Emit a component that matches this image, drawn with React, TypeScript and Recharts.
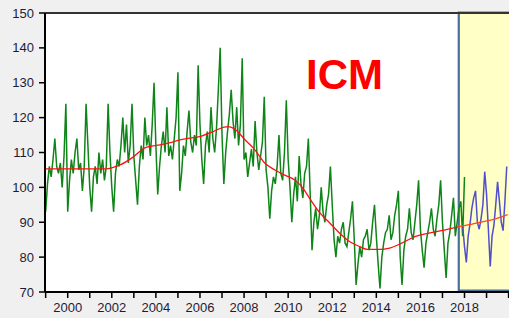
import { LineChart, Line, XAxis, YAxis, CartesianGrid, ReferenceArea, ReferenceLine } from 'recharts';

// monthly actuals, Jan 1999 onwards (one row per year)
const actualValues = [
  93, 101, 106, 103, 108, 114, 106, 104, 107, 100, 109, 124,
  93, 102, 108, 104, 110, 114, 105, 107, 99, 106, 124, 112,
  100, 93, 103, 106, 101, 110, 104, 108, 102, 106, 124, 110,
  100, 93, 104, 108, 106, 112, 120, 110, 118, 107, 112, 124,
  109, 102, 95, 106, 112, 108, 120, 112, 115, 109, 118, 130,
  112, 98, 106, 112, 116, 110, 123, 109, 112, 108, 114, 120,
  133, 99, 104, 112, 109, 116, 122, 113, 110, 115, 112, 135,
  118, 108, 101, 112, 116, 110, 123, 114, 110, 117, 128, 140,
  115, 101, 110, 116, 121, 128, 119, 114, 123, 112, 118, 137,
  108, 110, 103, 107, 111, 106, 119, 110, 105, 109, 113, 126,
  105, 100, 91, 99, 103, 101, 106, 115, 104, 102, 110, 125,
  108, 100, 90, 98, 103, 96, 109, 101, 97, 104, 106, 114,
  98, 82, 90, 94, 88, 92, 100, 93, 90, 95, 98, 106,
  95, 85, 80, 86, 84, 88, 90, 84, 83, 87, 91, 96,
  85, 72, 78, 83, 80, 85, 86, 88, 82, 84, 90, 95,
  86, 78, 71, 80, 84, 87, 88, 92, 85, 87, 92, 95,
  99, 80, 72, 82, 86, 88, 94, 87, 85, 90, 95, 102,
  88, 82, 77, 84, 87, 90, 94, 88, 86, 91, 95, 102,
  90, 82, 74, 84, 87, 92, 97, 86, 90, 94, 96, 86,
  103,
];

// forecast, Dec 2017 -> Dec 2019
const forecastStart = 2017 + 11 / 12;
const forecastValues = [
  89, 83, 78.5, 86, 89.5, 94, 97, 99, 90, 88, 91, 95, 104.5,
  98, 88, 77.3, 86, 89, 95, 101.6, 96, 90, 87.6, 96, 106,
];

// smoothed trend
const trendYears = [
  1999, 2000, 2001, 2001.75, 2002, 2002.4, 2002.95, 2003.55, 2004.2, 2004.65, 2005, 2005.55,
  2006.1, 2006.6, 2007.1, 2007.3, 2007.6, 2008.05, 2008.5, 2008.95, 2009.4, 2009.85, 2010.3,
  2010.7, 2011, 2011.45, 2011.9, 2012.35, 2012.8, 2013.25, 2013.6, 2014.2, 2014.55, 2015.15,
  2015.75, 2016.35, 2016.95, 2017.7,
];
const trendValues = [
  105.3, 105.3, 105.3, 105.3, 105.6, 106.5, 108.6, 111.5, 112.2, 112.8, 113.5, 114.1,
  114.8, 116, 117.3, 117.4, 116.6, 113.6, 110.7, 106.9, 105, 103.5, 102.1,
  99.5, 96.6, 92.6, 89.7, 86.8, 84.4, 83, 82.2, 82.2, 82.5, 84,
  85.9, 86.8, 87.6, 88.7,
];
const trendFcstYears = [2017.7, 2018.2, 2018.85, 2019.4, 2019.95];
const trendFcstValues = [88.7, 89.3, 90.2, 91, 92.2];

const yTicks = [70, 80, 90, 100, 110, 120, 130, 140, 150];
const xTicks = [1999, 2000, 2001, 2002, 2003, 2004, 2005, 2006, 2007, 2008, 2009, 2010, 2011, 2012, 2013, 2014, 2015, 2016, 2017, 2018, 2019, 2020];
const xLabels = ['2000', '2002', '2004', '2006', '2008', '2010', '2012', '2014', '2016', '2018'];

const actualData = actualValues.map((v, i) => ({ x: 1999 + i / 12, y: v }));
const forecastData = forecastValues.map((v, i) => ({ x: forecastStart + i / 12, y: v }));
const trendData = trendYears.map((x, i) => ({ x, y: trendValues[i] }));
const trendFcstData = trendFcstYears.map((x, i) => ({ x, y: trendFcstValues[i] }));

const tickStyle = { fontSize: 13, fill: '#1c1c38', fontFamily: '"Liberation Sans", Arial, sans-serif' };

export default function App() {
  return (
    <div style={{ position: 'absolute', left: 0, top: 0, width: 509, height: 318, overflow: 'hidden', background: '#f0f0f0' }}>
      <LineChart width={513} height={318} margin={{ top: 13, right: 0, bottom: 0, left: 0 }}>
        <CartesianGrid fill="#ffffff" stroke="none" />
        <ReferenceArea
          x1={2017.74}
          x2={2021}
          y1={70.4}
          y2={150.1}
          fill="#ffffc6"
          fillOpacity={1}
          stroke="#4a6f98"
          strokeWidth={2.2}
          ifOverflow="visible"
        />
        <ReferenceLine y={150} stroke="#333" strokeWidth={2} />
        <XAxis
          type="number"
          dataKey="x"
          domain={[1998.97, 2020.2]}
          allowDataOverflow
          ticks={xTicks}
          tickFormatter={(v: number) => (xLabels.includes(String(v)) ? String(v) : '')}
          interval={0}
          height={26}
          tickSize={6}
          tickMargin={5}
          axisLine={{ stroke: '#000', strokeWidth: 2 }}
          tickLine={{ stroke: '#000', strokeWidth: 1.5 }}
          tick={tickStyle}
        />
        <YAxis
          type="number"
          domain={[70, 150]}
          ticks={yTicks}
          interval={0}
          width={45}
          tickSize={6}
          tickMargin={5}
          axisLine={{ stroke: '#000', strokeWidth: 2 }}
          tickLine={{ stroke: '#000', strokeWidth: 1.5 }}
          tick={tickStyle}
        />
        <Line data={actualData} dataKey="y" type="linear" stroke="#0f8418" strokeWidth={1.5} dot={false} activeDot={false} isAnimationActive={false} />
        <Line data={forecastData} dataKey="y" type="linear" stroke="#4f4fcf" strokeWidth={1.5} dot={false} activeDot={false} isAnimationActive={false} />
        <Line data={trendData} dataKey="y" type="monotone" stroke="#ff1010" strokeWidth={1.3} dot={false} activeDot={false} isAnimationActive={false} />
        <Line data={trendFcstData} dataKey="y" type="monotone" stroke="#ff4a1a" strokeWidth={1.3} dot={false} activeDot={false} isAnimationActive={false} />
      </LineChart>
      <div
        style={{
          position: 'absolute',
          left: 306,
          top: 52,
          color: '#ff0000',
          fontFamily: '"Liberation Sans", Arial, sans-serif',
          fontWeight: 'bold',
          fontSize: 42,
          lineHeight: '46px',
        }}
      >
        ICM
      </div>
    </div>
  );
}
